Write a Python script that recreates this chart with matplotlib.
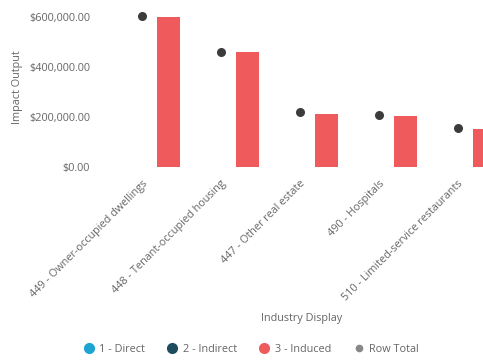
import matplotlib
matplotlib.use("Agg")

import matplotlib.pyplot as plt
from matplotlib.lines import Line2D
from matplotlib.ticker import FuncFormatter
import numpy as np

plt.rcParams['font.family'] = ['Open Sans', 'DejaVu Sans']

# Top industries by impact output
industries = [
    "449 - Owner-occupied dwellings",
    "448 - Tenant-occupied housing",
    "447 - Other real estate",
    "490 - Hospitals",
    "510 - Limited-service restaurants",
]
direct = [0, 0, 0, 0, 0]
indirect = [0, 0, 0, 0, 0]
induced = [599000, 459000, 213000, 203000, 153000]
row_total = [604000, 459000, 220000, 207000, 157000]

series = [
    ("1 - Direct", direct, "#1ea4d1"),
    ("2 - Indirect", indirect, "#1d4d5e"),
    ("3 - Induced", induced, "#ef5b5d"),
]

fig = plt.figure(figsize=(4.83, 3.64), dpi=100)
ax = fig.add_axes([0.212, 0.541, 0.788, 0.44])

x = np.arange(len(industries))
slot = 0.34
for i, (name, vals, color) in enumerate(series):
    ax.bar(x + (i - 1) * slot, vals, width=0.29, color=color, zorder=2)

ax.scatter(x, row_total, s=30, color="#3b3b3b", zorder=3)

ax.set_xlim(-0.5, 4.32)
ax.set_ylim(0, 640000)
ax.set_yticks([0, 200000, 400000, 600000])
ax.yaxis.set_major_formatter(FuncFormatter(lambda v, p: f"${v:,.2f}"))

ax.set_xticks(x)
ax.set_xticklabels(industries, rotation=45, ha="right", rotation_mode="anchor")

for side in ax.spines.values():
    side.set_visible(False)
ax.tick_params(axis="both", length=0, colors="#666666", labelsize=7.8)
ax.tick_params(axis="y", pad=9)
ax.tick_params(axis="x", pad=8)

ax.set_ylabel("Impact Output", color="#666666", fontsize=7.8, labelpad=4)
fig.text(0.625, 0.125, "Industry Display", ha="center", va="center",
         color="#666666", fontsize=7.8)

# legend along the bottom
handles = [Line2D([], [], marker="o", linestyle="", markersize=7, color=c) for _, _, c in series]
handles.append(Line2D([], [], marker="o", linestyle="", markersize=4.5, color="#888888"))
labels = [name for name, _, _ in series] + ["Row Total"]
leg = fig.legend(handles, labels, loc="center", bbox_to_anchor=(0.52, 0.041), ncol=4,
                 frameon=False, fontsize=7.8, handletextpad=0.5, columnspacing=2.0,
                 handlelength=1.0)
for t in leg.get_texts():
    t.set_color("#666666")

fig.savefig("out.png", dpi=100)
